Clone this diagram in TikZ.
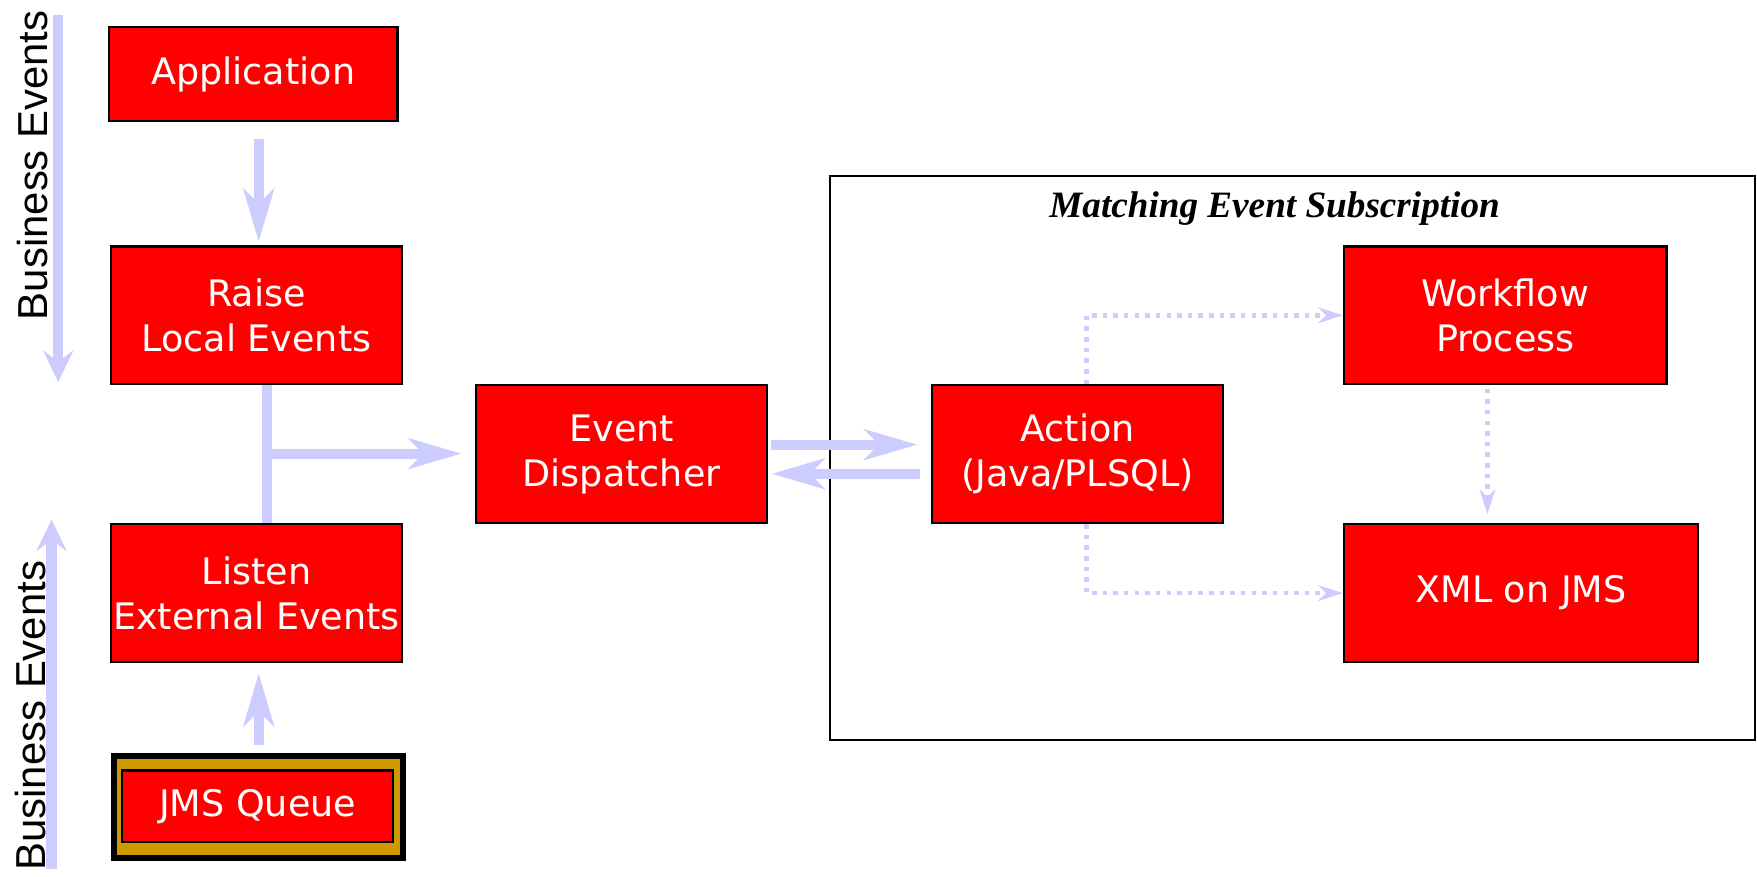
\documentclass[tikz,border=0pt]{standalone}
\usepackage{fontspec}
\setmainfont{DejaVu Sans}
\newfontfamily\arialfont{Liberation Sans}
\newfontfamily\timesfont{Liberation Serif}
\usetikzlibrary{arrows.meta}
\definecolor{evred}{RGB}{255,0,0}
\definecolor{evarrow}{RGB}{204,204,255}
\definecolor{evgold}{RGB}{204,153,0}
\tikzset{
  redbox/.style={draw=black, line width=1pt, fill=evred, text=white,
    font=\fontsize{16.3}{20}\selectfont, align=center, inner sep=0pt},
  bigarrow/.style={draw=evarrow, line width=4.5pt,
    -{Stealth[length=23.5pt,width=13.5pt,inset=6.5pt]}},
  barline/.style={draw=evarrow, line width=4.5pt},
  sidearrow/.style={draw=evarrow, line width=4.5pt,
    -{Stealth[length=14pt,width=13.5pt,inset=5pt]}},
  dotarrow/.style={draw=evarrow, line width=2pt, dash pattern=on 2pt off 2.75pt,
    -{Stealth[length=11pt,width=7pt,inset=3.5pt]}},
  sidelabel/.style={rotate=90, anchor=base, font=\arialfont\fontsize{18.7}{20}\selectfont},
}
\begin{document}
\begin{tikzpicture}[x=0.5pt, y=-0.5pt]
\useasboundingbox (0,0) rectangle (1568.75,783);

% subscription frame
\node[draw=black, line width=1pt, minimum width=413pt, minimum height=252pt, inner sep=0pt]
  (sub) at (1154,409) {};
\node[anchor=base, font=\timesfont\bfseries\itshape\fontsize{16.6}{20}\selectfont]
  (subtitle) at (1138,194) {Matching Event Subscription};

% boxes
\node[redbox, minimum width=129pt, minimum height=42pt] (app) at (226,66) {\raisebox{-1.5pt}{Application}};
\node[redbox, minimum width=130pt, minimum height=61.5pt] (raise) at (229,281.5) {Raise\\Local Events};
\node[redbox, minimum width=130pt, minimum height=61.5pt] (listen) at (229,529.5) {Listen\\External Events};
\node[redbox, minimum width=130pt, minimum height=61.5pt] (disp) at (555,405.5) {Event\\Dispatcher};
\node[redbox, minimum width=130pt, minimum height=61.5pt] (action) at (962,405.5) {Action\\(Java/PLSQL)};
\node[redbox, minimum width=144pt, minimum height=61.5pt] (wf) at (1344,281.5) {Workflow\\Process};
\node[redbox, minimum width=158pt, minimum height=61.5pt] (xml) at (1358,529.5) {\raisebox{-1.5pt}{XML on JMS}};

% JMS queue
\node[draw=black, line width=2.5pt, fill=evgold, minimum width=129pt, minimum height=45.5pt, inner sep=0pt]
  (jmsouter) at (231,720.5) {};
\node[redbox, minimum width=121pt, minimum height=32pt] (jms) at (230,720) {\raisebox{-1pt}{JMS Queue}};

% helper coordinates
\coordinate (cA) at (231,0);
\coordinate (cB) at (238,0);
\coordinate (br) at (238,405);
\coordinate (up) at (0,397);
\coordinate (lo) at (0,423);
\coordinate (cD) at (970,0);
\coordinate (cW) at (1328,0);

% thick arrows
\draw[bigarrow, shorten <=7.5pt, shorten >=1.5pt] (app.south -| cA) -- (raise.north -| cA);
\draw[barline] (raise.south -| cB) -- (listen.north -| cB);
\draw[bigarrow, shorten >=6pt] (br) -- (disp.west |- br);
\draw[bigarrow, shorten <=1pt, shorten >=6pt] (disp.east |- up) -- (action.west |- up);
\draw[bigarrow, shorten <=5pt, shorten >=1.5pt] (action.west |- lo) -- (disp.east |- lo);
\draw[bigarrow, shorten <=3.5pt, shorten >=4.5pt] (jmsouter.north -| cA) -- (listen.south -| cA);

% dotted arrows
\draw[dotarrow] (action.north -| cD) |- (wf.west);
\draw[dotarrow] (action.south -| cD) |- (xml.west);
\draw[dotarrow, shorten <=1.5pt, shorten >=4pt] (wf.south -| cW) -- (xml.north -| cW);

% business events side arrows
\coordinate (t1) at (52,13);
\coordinate (t2) at (52,341);
\coordinate (b1) at (46,776);
\coordinate (b2) at (46,464);
\draw[sidearrow] (t1) -- (t2);
\draw[sidearrow] (b1) -- (b2);
\node[sidelabel] (lbltop) at (42,147.5) {Business Events};
\node[sidelabel] (lblbot) at (41,639) {Business Events};
\end{tikzpicture}
\end{document}
